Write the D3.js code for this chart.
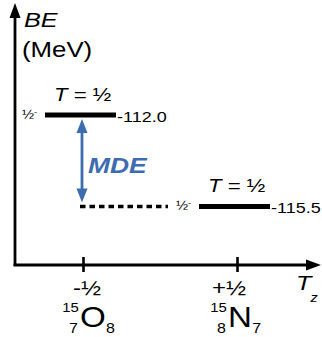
<!DOCTYPE html>
<html>
<head>
<meta charset="utf-8">
<script src="https://cdn.jsdelivr.net/npm/d3@7"></script>
<style>
  html, body { margin: 0; padding: 0; background: #fff; }
  svg { display: block; }
  text { font-family: "Liberation Sans", Arial, sans-serif; fill: #000; }
</style>
</head>
<body>
<svg id="chart" width="322" height="337"></svg>
<script>
// Mirror nuclei: isospin projection, binding energy, labels
const nuclei = ["O", "N"];
const massNumbers = ["15", "15"];
const protonNumbers = ["7", "8"];
const neutronNumbers = ["8", "7"];
const tz = [-0.5, 0.5];
const tzLabels = ["-½", "+½"];
const bindingEnergy = [-112.0, -115.5];
const energyLabels = ["-112.0", "-115.5"];
const isospinLabels = ["½", "½"];
const spinLabels = ["½", "½"];
const parityLabels = ["-", "-"];

const SX = 1.2; // horizontal stretch applied to all text
const blue = "#3d6cb0";

const svg = d3.select("#chart");

const x = d3.scaleLinear().domain([-0.5, 0.5]).range([83, 237]);
const y = d3.scaleLinear().domain([-112.0, -115.5]).range([115, 206.5]);

const originX = 15, originY = 265;

// stretched text helper
function label(parent, px, py, str, size, opts = {}) {
  const g = parent.append("g").attr("transform", `translate(${px},${py}) scale(${SX},1)`);
  const t = g.append("text")
    .attr("font-size", size)
    .attr("text-anchor", opts.anchor || "start")
    .text(str);
  if (opts.italic) t.attr("font-style", "italic");
  if (opts.bold) t.attr("font-weight", "bold");
  if (opts.fill) t.style("fill", opts.fill);
  return t;
}

// axes
const axes = svg.append("g");
axes.append("line").attr("x1", originX).attr("y1", originY + 1).attr("x2", originX).attr("y2", 14)
  .attr("stroke", "#000").attr("stroke-width", 2.8);
axes.append("path").attr("d", `M${originX},3 L${originX + 5.5},18 L${originX - 5.5},18 Z`).attr("fill", "#000");
axes.append("line").attr("x1", originX - 1.4).attr("y1", originY).attr("x2", 310).attr("y2", originY)
  .attr("stroke", "#000").attr("stroke-width", 2.8);
axes.append("path").attr("d", `M321,${originY} L306,${originY - 5.5} L306,${originY + 5.5} Z`).attr("fill", "#000");

// Tz ticks
const xAxis = d3.axisBottom(x).tickValues(tz).tickSize(7).tickFormat(() => "");
const ax = svg.append("g").attr("transform", `translate(0,${originY})`).call(xAxis);
ax.select(".domain").remove();
ax.selectAll(".tick line").attr("y1", -8).attr("stroke", "#000").attr("stroke-width", 2.6);

const tickShift = [4, -8];
tz.forEach((v, i) => {
  label(svg, x(v) + tickShift[i], 295, tzLabels[i], 20, { anchor: "middle" });
});

// axis titles
label(svg, 24, 27, "BE", 21, { italic: true });
label(svg, 22, 57, "(MeV)", 21.5);
const tzT = svg.append("g").attr("transform", `translate(296,290) scale(${SX},1)`);
tzT.append("text").attr("font-size", 21).attr("font-style", "italic").text("T");
tzT.append("text").attr("x", 12).attr("y", 12).attr("font-size", 12).attr("font-style", "italic").text("z");

// nuclide symbols below the axis
const elemLeft = [80, 228];
nuclei.forEach((el, i) => {
  const g = svg.append("g").attr("transform", `translate(${elemLeft[i]},327) scale(${SX * 0.92},1)`);
  g.append("text").attr("font-size", 30).text(el);
  g.append("text").attr("x", -1).attr("y", -15).attr("font-size", 13.5).attr("text-anchor", "end").text(massNumbers[i]);
  g.append("text").attr("x", -2).attr("y", 6).attr("font-size", 14.5).attr("text-anchor", "end").text(protonNumbers[i]);
  const w = el === "O" ? 23.5 : 22;
  g.append("text").attr("x", w).attr("y", 6).attr("font-size", 14.5).text(neutronNumbers[i]);
});

// levels
const levels = svg.append("g");
tz.forEach((v, i) => {
  const yy = y(bindingEnergy[i]);
  const x0 = x(v) - 38, x1 = x(v) + 33;
  levels.append("line").attr("x1", x0).attr("x2", x1).attr("y1", yy).attr("y2", yy)
    .attr("stroke", "#000").attr("stroke-width", 5);
  label(levels, x1 + 1, yy + 6.5, energyLabels[i], 15);
  const iso = label(levels, x(v) - 29, yy - 14.5, "", 18.5);
  iso.append("tspan").attr("font-style", "italic").text("T");
  iso.append("tspan").text(" = " + isospinLabels[i]);
  const sp = label(levels, x0 - 23, yy + 3.5, spinLabels[i], 12);
  sp.append("tspan").attr("dy", -5).attr("font-size", 8).text(parityLabels[i]);
});

// Coulomb-shifted reference: dashed continuation of the lower level
const yLow = y(bindingEnergy[1]);
svg.append("line")
  .attr("x1", x(tz[0]) - 3).attr("x2", x(tz[1]) - 69)
  .attr("y1", yLow).attr("y2", yLow)
  .attr("stroke", "#000").attr("stroke-width", 3.4)
  .attr("stroke-dasharray", "5.5,4");

// MDE double arrow
const ax0 = x(tz[0]) - 1;
const yTop = y(bindingEnergy[0]) + 4, yBot = y(bindingEnergy[1]) - 4;
svg.append("line").attr("x1", ax0).attr("x2", ax0).attr("y1", yTop + 10).attr("y2", yBot - 10)
  .attr("stroke", blue).attr("stroke-width", 2.8);
svg.append("path").attr("d", `M${ax0},${yTop} L${ax0 + 5.5},${yTop + 14} L${ax0 - 5.5},${yTop + 14} Z`).attr("fill", blue);
svg.append("path").attr("d", `M${ax0},${yBot} L${ax0 + 5.5},${yBot - 14} L${ax0 - 5.5},${yBot - 14} Z`).attr("fill", blue);
label(svg, 88, 173, "MDE", 22, { italic: true, bold: true, fill: blue });
</script>
</body>
</html>
